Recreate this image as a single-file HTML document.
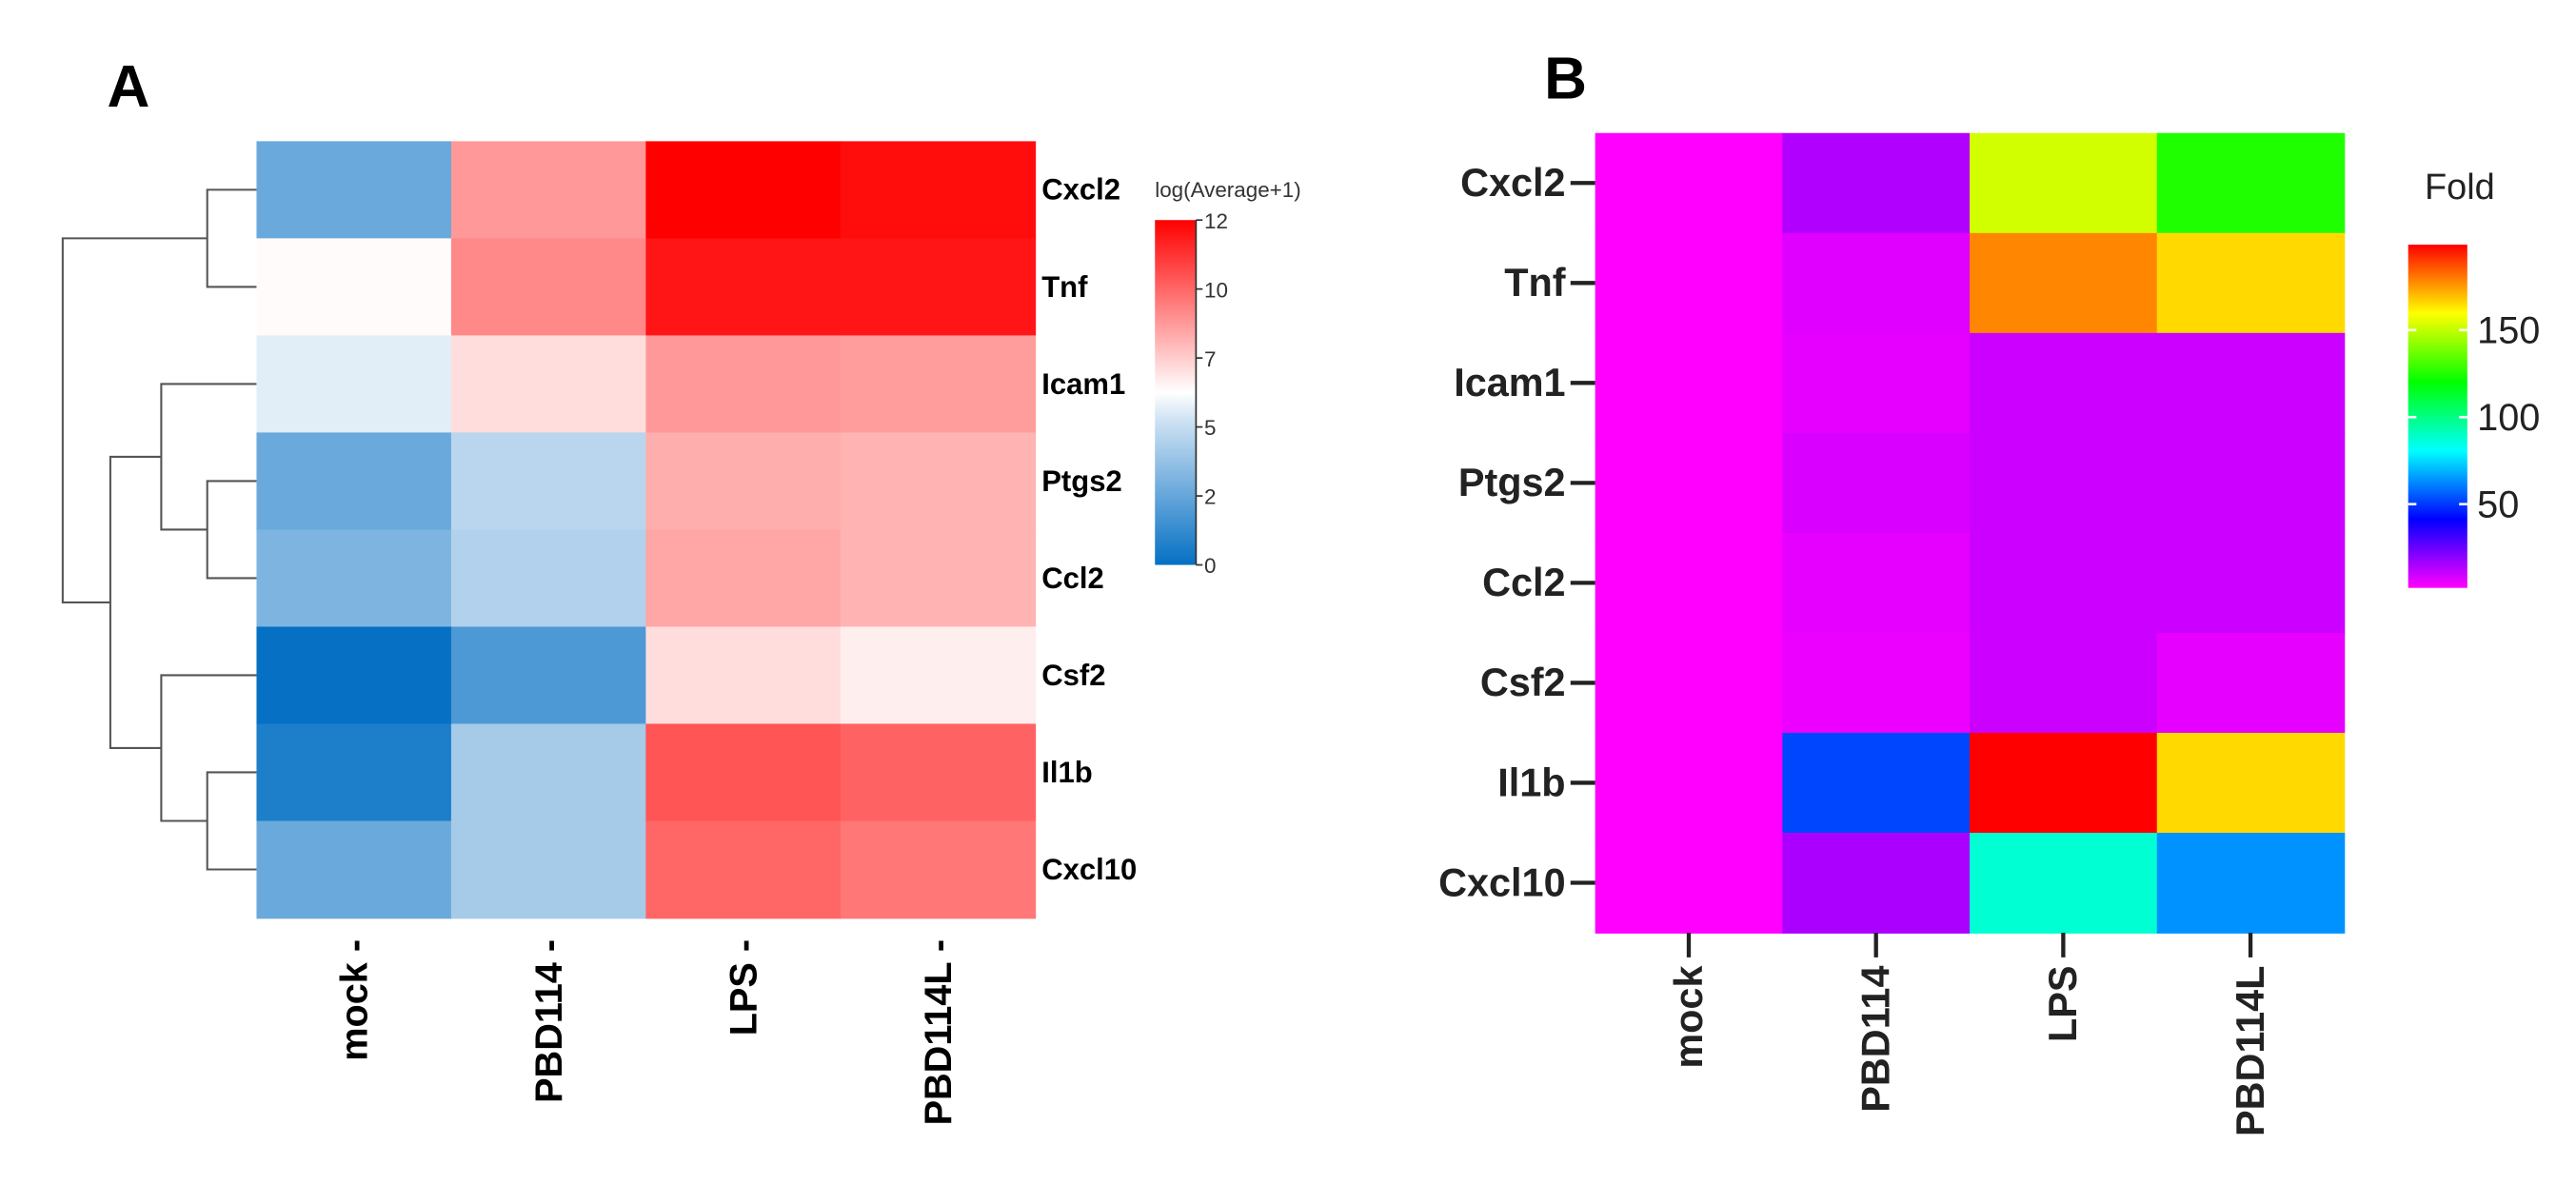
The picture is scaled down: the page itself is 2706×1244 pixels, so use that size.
<!DOCTYPE html>
<html><head><meta charset="utf-8"><style>
html,body{margin:0;padding:0;background:#fff}
svg{display:block;font-family:"Liberation Sans",sans-serif}
</style></head><body>
<svg id="fig" width="2706" height="1244" viewBox="0 0 1568 721" xmlns="http://www.w3.org/2000/svg">
<g id="panelA"></g>
<g id="panelB"></g>
</svg>
<script>
const genes = ["Cxcl2","Tnf","Icam1","Ptgs2","Ccl2","Csf2","Il1b","Cxcl10"];
const groupsA = ["mock -","PBD114 -","LPS -","PBD114L -"];
const groupsB = ["mock","PBD114","LPS","PBD114L"];
const logValues = [
 [2.5,8.4,12,11.7],[6.1,8.8,11.5,11.5],[5.5,6.8,8.4,8.3],[2.5,4.5,7.9,7.8],
 [3,4.3,8.1,7.8],[0,1.8,6.8,6.4],[0.6,4,10,9.7],[2.5,4,9.6,9.2]];
const logTicks = [0,2,5,7,10,12];
const foldValues = [
 [0,12,153,125],[0,5,179,166],[0,4,8,8],[0,6,8,8],
 [0,4,8,8],[0,3,8,4],[0,51,200,166],[0,13,87,63]];
const foldTicks = [50,100,150];

const NS="http://www.w3.org/2000/svg";
function mk(parent,tag,attrs,text){const e=document.createElementNS(NS,tag);for(const k in attrs)e.setAttribute(k,attrs[k]);if(text!==undefined)e.textContent=text;parent.appendChild(e);return e;}
function lerp(a,b,t){return a+(b-a)*t;}
function divColor(v){const mid=6;let c;
 if(v<mid){const t=v/mid;c=[lerp(5,245,t),lerp(112,248,t),lerp(196,252,t)];}
 else{const t=(v-mid)/(12-mid);c=[255,lerp(255,0,t),lerp(255,0,t)];}
 return `rgb(${c.map(Math.round).join(',')})`;}
function rainbow(v){return `hsl(${300-1.5*Math.max(0,Math.min(200,v))},100%,50%)`;}

// ---------- Panel A ----------
const A=document.getElementById('panelA');
const ax0=156,ax1=630,ay0=86,ay1=559;
const cwA=(ax1-ax0)/groupsA.length, rhA=(ay1-ay0)/genes.length;
const yA=i=>ay0+rhA*(i+0.5);
let t=mk(A,'text',{x:65,y:65,'font-size':36,'font-weight':'bold'},'A');

genes.forEach((g,i)=>{groupsA.forEach((c,j)=>{
 const r=mk(A,'rect',{x:ax0+j*cwA,y:ay0+i*rhA,width:cwA+0.5,height:rhA+0.5,fill:divColor(logValues[i][j])});
 });
 const l=mk(A,'text',{x:634,y:yA(i)+6,'font-size':18,'font-weight':'bold'},g);
 });
groupsA.forEach((c,j)=>{const x=ax0+cwA*(j+0.5)+8;
 const l=mk(A,'text',{x:0,y:0,'font-size':23,'font-weight':'bold','text-anchor':'end',transform:`translate(${x},572) rotate(-90)`},c);
 });
const dg=mk(A,'g',{stroke:'#555','stroke-width':1.2,fill:'none'});

function link(ya,yb,x,xa,xb){mk(dg,'path',{d:`M${xa},${ya}H${x}V${yb}H${xb}`});}
const L=ax0;
link(yA(0),yA(1),126,L,L); const n01=(yA(0)+yA(1))/2;
link(yA(3),yA(4),126,L,L); const n34=(yA(3)+yA(4))/2;
link(yA(2),n34,98,L,126); const n234=(yA(2)+n34)/2;
link(yA(6),yA(7),126,L,L); const n67=(yA(6)+yA(7))/2;
link(yA(5),n67,98,L,126); const n567=(yA(5)+n67)/2;
link(n234,n567,67,98,98); const nB=(n234+n567)/2;
link(n01,nB,38,126,67);
const cb=mk(A,'g',{});
const defs=mk(A,'defs',{});const gr=mk(defs,'linearGradient',{id:'gA',x1:0,y1:1,x2:0,y2:0});
for(let k=0;k<=12;k++)mk(gr,'stop',{offset:k/12,'stop-color':divColor(k)});
const cby0=134,cby1=344;
mk(cb,'rect',{x:703,y:cby0,width:25,height:cby1-cby0,fill:'url(#gA)'});
mk(cb,'line',{x1:728,y1:cby0,x2:728,y2:cby1,stroke:'#333','stroke-width':1});
const yCb=v=>cby1-(cby1-cby0)*logTicks.indexOf(v)/(logTicks.length-1);
logTicks.forEach(v=>{const y=yCb(v);mk(cb,'line',{x1:728,y1:y,x2:732,y2:y,stroke:'#333'});
 const l=mk(cb,'text',{x:733,y:y+5,'font-size':13,fill:'#333'},v);
 });
t=mk(cb,'text',{x:703,y:120,'font-size':13,fill:'#333'},'log(Average+1)');


// ---------- Panel B ----------
const B=document.getElementById('panelB');
const bx0=971,bx1=1427,by0=81,by1=568;
const cwB=(bx1-bx0)/groupsB.length, rhB=(by1-by0)/genes.length;
t=mk(B,'text',{x:940,y:60,'font-size':36,'font-weight':'bold'},'B');

genes.forEach((g,i)=>{groupsB.forEach((c,j)=>{
 const r=mk(B,'rect',{x:bx0+j*cwB,y:by0+i*rhB,width:cwB+0.5,height:rhB+0.5,fill:rainbow(foldValues[i][j])});
 });
 const y=by0+rhB*(i+0.5);
 mk(B,'line',{x1:956,y1:y,x2:971,y2:y,stroke:'#222','stroke-width':2.5});
 const l=mk(B,'text',{x:953,y:y+8,'font-size':24,'font-weight':'bold','text-anchor':'end',fill:'#222'},g);
 });
groupsB.forEach((c,j)=>{const x=bx0+cwB*(j+0.5);
 mk(B,'line',{x1:x,y1:568,x2:x,y2:583,stroke:'#222','stroke-width':2.5});
 const l=mk(B,'text',{x:0,y:0,'font-size':24,'font-weight':'bold','text-anchor':'end',fill:'#222',transform:`translate(${x+8},588) rotate(-90)`},c);
 });
const cbB=mk(B,'g',{});
const grB=mk(defs,'linearGradient',{id:'gB',x1:0,y1:1,x2:0,y2:0});
for(let k=0;k<=20;k++)mk(grB,'stop',{offset:k/20,'stop-color':rainbow(k*10)});
const fy0=149,fy1=358,fmax=200;
const fz=360, fs=(360-148)/200;
const yF=v=>fz-fs*v;
mk(cbB,'rect',{x:1466,y:fy0,width:36,height:fy1-fy0,fill:'url(#gB)'});
foldTicks.forEach(v=>{const y=yF(v);
 mk(cbB,'line',{x1:1466,y1:y,x2:1471,y2:y,stroke:'#fff','stroke-width':1.5});
 mk(cbB,'line',{x1:1497,y1:y,x2:1502,y2:y,stroke:'#fff','stroke-width':1.5});
 const l=mk(cbB,'text',{x:1508,y:y+8,'font-size':23,fill:'#222'},v);
 });
t=mk(cbB,'text',{x:1476,y:121,'font-size':22,fill:'#222'},'Fold');

</script>
</body></html>
